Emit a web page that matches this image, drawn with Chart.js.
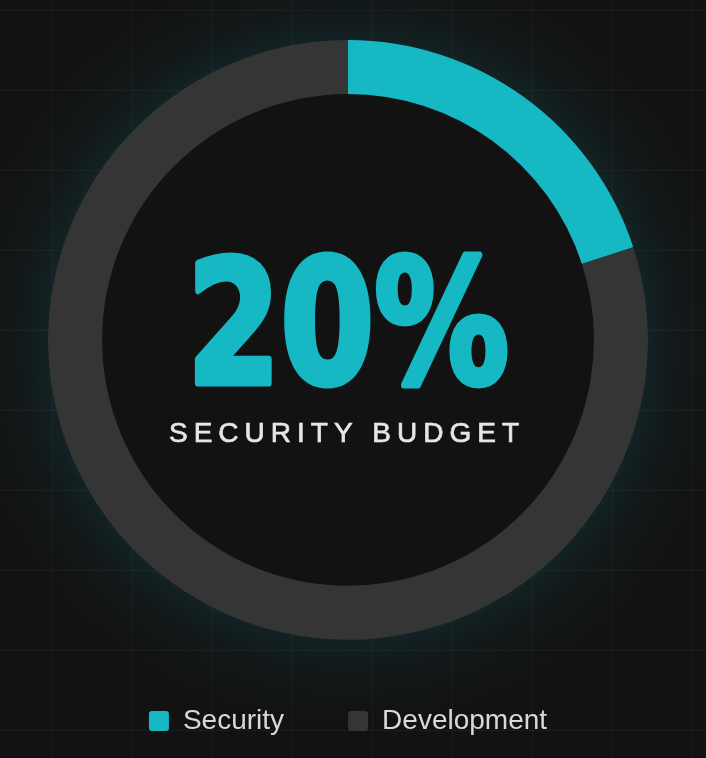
<!DOCTYPE html>
<html>
<head>
<meta charset="utf-8">
<script src="https://cdn.jsdelivr.net/npm/chart.js@4"></script>
<style>
  html, body { margin: 0; padding: 0; }
  body {
    width: 706px; height: 758px; overflow: hidden; position: relative;
    background-color: #121212;
    background-image:
      linear-gradient(to right, rgba(255,255,255,0.045) 1px, transparent 1px),
      linear-gradient(to bottom, rgba(255,255,255,0.045) 1px, transparent 1px);
    background-size: 80px 80px;
    background-position: 52px 10px;
  }
  #glow {
    position: absolute; left: 0; top: 0; width: 706px; height: 758px;
    background: radial-gradient(circle at 348px 340px, rgba(23,184,197,0.10) 296px, rgba(23,184,197,0.04) 330px, rgba(23,184,197,0) 385px);
  }
  #wrap { position: absolute; left: 0; top: 0; width: 696px; height: 758px; }
</style>
</head>
<body>
<div id="glow"></div>
<div id="wrap"><canvas id="budgetChart"></canvas></div>
<script>
// budget split
const categories = ['Security', 'Development'];
const shares = [20, 80];
const sliceColors = ['#16b8c4', '#353535'];
const centerCaption = 'SECURITY BUDGET';

// Draws the dark hole and the big percentage in the middle
const centerText = {
    id: 'centerText',
    beforeDatasetsDraw(chart) {
        const arc = chart.getDatasetMeta(0).data[0];
        if (!arc) return;
        const { ctx } = chart;
        ctx.save();
        ctx.beginPath();
        ctx.arc(arc.x, arc.y, arc.innerRadius, 0, Math.PI * 2);
        ctx.fillStyle = '#121212';
        ctx.fill();
        ctx.restore();
    },
    afterDatasetsDraw(chart) {
        const arc = chart.getDatasetMeta(0).data[0];
        if (!arc) return;
        const { ctx } = chart;
        const cx = arc.x, cy = arc.y;

        // big number, squeezed to look like a heavy condensed face
        ctx.save();
        ctx.fillStyle = sliceColors[0];
        ctx.strokeStyle = sliceColors[0];
        ctx.lineWidth = 7;
        ctx.lineJoin = 'round';
        ctx.textAlign = 'center';
        ctx.textBaseline = 'alphabetic';
        ctx.font = 'bold 172px "DejaVu Sans", sans-serif';
        const big = shares[0] + '%';
        const w = ctx.measureText(big).width;
        const sx = Math.min(1, 322 / w);
        ctx.translate(cx, cy + 43);
        ctx.scale(sx, 1);
        ctx.fillText(big, 0, 0);
        ctx.strokeText(big, 0, 0);
        ctx.restore();

        ctx.save();
        ctx.fillStyle = '#e6e6e6';
        ctx.strokeStyle = '#e6e6e6';
        ctx.lineWidth = 0.7;
        ctx.textAlign = 'center';
        ctx.font = '28px "Liberation Sans", Arial, sans-serif';
        ctx.letterSpacing = '6px';
        ctx.fillText(centerCaption, cx - 1, cy + 94);
        ctx.strokeText(centerCaption, cx - 1, cy + 94);
        ctx.restore();
    }
};

const ctx = document.getElementById('budgetChart').getContext('2d');

const chart = new Chart(ctx, {
    type: 'doughnut',
    data: {
        labels: categories,
        datasets: [{
            data: shares,
            backgroundColor: sliceColors,
            borderWidth: 0,
            hoverOffset: 0
        }]
    },
    options: {
        responsive: true,
        maintainAspectRatio: false,
        animation: false,
        cutout: '82%',
        layout: { padding: { top: 40, bottom: 13 } },
        plugins: {
            tooltip: { enabled: false },
            legend: {
                position: 'bottom',
                title: { display: true, text: '', font: { size: 1 }, padding: { top: 0, bottom: 2 } },
                labels: {
                    color: '#d9d9d9',
                    font: { family: '"Liberation Sans", Arial, sans-serif', size: 28 },
                    boxWidth: 20,
                    boxHeight: 20,
                    useBorderRadius: true,
                    borderRadius: 3,
                    padding: 64
                }
            }
        }
    },
    plugins: [centerText]
});
</script>
</body>
</html>
